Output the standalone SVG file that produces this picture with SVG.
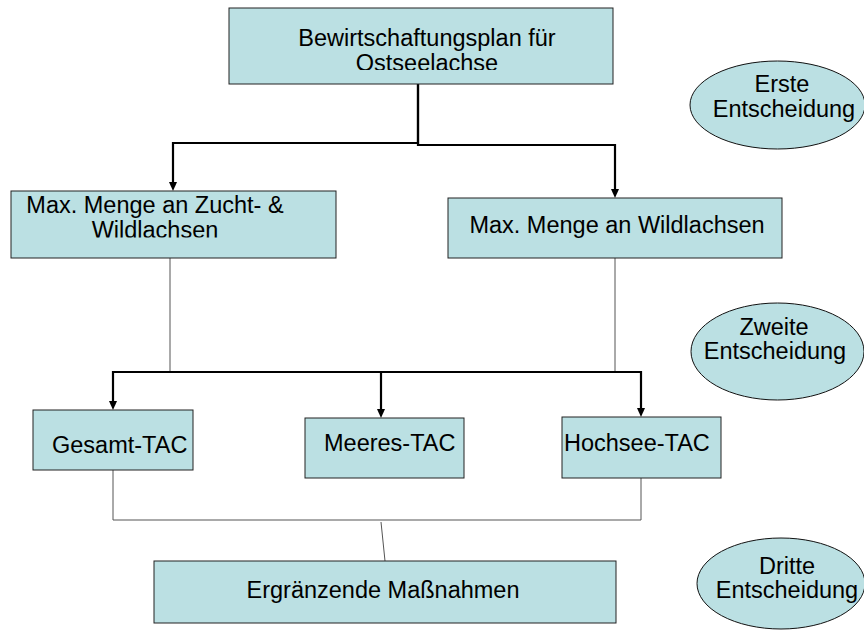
<svg xmlns="http://www.w3.org/2000/svg" width="864" height="630" viewBox="0 0 864 630">
<style>
.box{fill:#BBE0E3;stroke:#222;stroke-width:1}
.ell{fill:#BBE0E3;stroke:#111;stroke-width:1}
text{font-family:"Liberation Sans",Arial,sans-serif;font-size:23.5px;fill:#000}
.c{text-anchor:middle}
.thick{fill:none;stroke:#000;stroke-width:2.2}
.thin{fill:none;stroke:#555;stroke-width:1}
</style>
<defs>
<marker id="ah" viewBox="0 0 9 8" markerUnits="userSpaceOnUse" markerWidth="9" markerHeight="8" refX="5" refY="4" orient="auto">
<path d="M0,0 L9,4 L0,8 z" fill="#000"/>
</marker>
<clipPath id="clipTop"><rect x="229" y="8" width="384" height="62"/></clipPath>
<clipPath id="clipZ"><rect x="11" y="191" width="325" height="46.5"/></clipPath>
</defs>
<rect width="864" height="630" fill="#fff"/>
<g id="connectors">
<path class="thick" d="M418 84 V143 H173 V187" marker-end="url(#ah)"/>
<path class="thick" d="M418 84 V145 H615 V194" marker-end="url(#ah)"/>
<path class="thin" d="M170 258 V372"/>
<path class="thin" d="M615 258 V372"/>
<path class="thick" d="M113 372 H641 V413" marker-end="url(#ah)"/>
<path class="thick" d="M113 371 V406" marker-end="url(#ah)"/>
<path class="thick" d="M381 372 V414" marker-end="url(#ah)"/>
<path class="thin" d="M113 470 V520 H641 V478"/>
<path class="thin" d="M381 522 L385 561"/>
</g>
<g id="n-plan">
<rect class="box" x="229" y="8" width="384" height="76"/>
<g clip-path="url(#clipTop)">
<text class="c" x="427" y="46">Bewirtschaftungsplan für</text>
<text class="c" x="427" y="71">Ostseelachse</text>
</g>
</g>
<g id="n-zucht">
<rect class="box" x="11" y="191" width="325" height="67"/>
<g clip-path="url(#clipZ)">
<text class="c" x="155" y="213">Max. Menge an Zucht- &amp;</text>
<text class="c" x="155" y="238">Wildlachsen</text>
</g>
</g>
<g id="n-wild">
<rect class="box" x="448" y="198" width="334" height="60"/>
<text class="c" x="617" y="233">Max. Menge an Wildlachsen</text>
</g>
<g id="n-gesamt">
<rect class="box" x="33" y="410" width="160" height="60"/>
<text x="52" y="453">Gesamt-TAC</text>
</g>
<g id="n-meeres">
<rect class="box" x="305" y="418" width="159" height="60"/>
<text x="324" y="451">Meeres-TAC</text>
</g>
<g id="n-hochsee">
<rect class="box" x="562" y="417" width="159" height="61"/>
<text x="564" y="451">Hochsee-TAC</text>
</g>
<g id="n-ergaenzend">
<rect class="box" x="154" y="561" width="462" height="62"/>
<text class="c" x="383" y="598">Ergränzende Maßnahmen</text>
</g>
<g id="n-erste">
<ellipse class="ell" cx="777.5" cy="105" rx="87.5" ry="44"/>
<text class="c" x="782" y="92">Erste</text>
<text class="c" x="784" y="117">Entscheidung</text>
</g>
<g id="n-zweite">
<ellipse class="ell" cx="777.5" cy="351.5" rx="86.5" ry="48.5"/>
<text class="c" x="774" y="335">Zweite</text>
<text class="c" x="775" y="359">Entscheidung</text>
</g>
<g id="n-dritte">
<ellipse class="ell" cx="781" cy="583.5" rx="84" ry="45.5"/>
<text class="c" x="787" y="574">Dritte</text>
<text class="c" x="787" y="598">Entscheidung</text>
</g>
</svg>
